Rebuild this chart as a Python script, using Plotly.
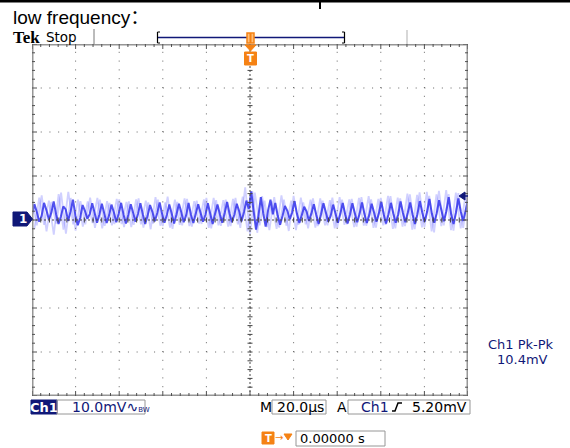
import numpy as np
import plotly.graph_objects as go

# ---------------- data (mV vs µs) ----------------
main_mv = [
    1.2, 3.6, 1.8, -0.4, 1.0, 3.9, 2.2, 0.1, 1.6, 4.2, 1.3, -0.9, 0.8, 3.1, 2.4, -0.2,
    1.9, 4.6, 1.1, -1.2, 0.5, 3.4, 2.0, 0.3, 1.4, 3.8, 1.6, -0.6,
    1.3, 3.7, 1.5, -0.7, 1.1, 3.5, 1.7, -0.5, 1.5, 3.9, 1.2, -0.8, 1.2, 3.6, 1.6, -0.4,
    1.4, 3.8, 1.3, -0.9, 1.0, 3.4, 1.8, -0.3, 1.6, 4.0, 1.4, -0.6, 1.2, 3.5, 1.5, -0.8,
    1.3, 3.7, 1.7, -0.5, 1.1, 3.9, 1.2, -0.7, 1.5, 3.6, 1.6, -0.4, 1.2, 3.8, 1.4, -0.9,
    1.4, 3.5, 1.3, -0.6,
    1.6, 4.1, 1.5, -0.5, 1.2, 3.7, 2.0, -0.3, 1.8, 4.4, 2.5, 6.5,
    2.0, -2.2, 1.0, 5.2, 1.5, -1.5, 2.2, 4.6,
    1.3, 3.9, 1.0, -1.1, 0.9, 3.2, 2.1, 0.2, 1.7, 4.3, 1.4, -0.7, 1.1, 3.0, 1.9, -0.2,
    1.5, 3.6, 1.2, -0.9, 1.3, 3.8, 1.7, -0.4, 1.0, 3.5, 1.5, -0.6, 1.4, 3.9, 1.3, -0.8,
    1.2, 3.8, 1.6, -0.5, 1.4, 4.0, 1.4, -0.7, 1.1, 3.7, 1.7, -0.4, 1.5, 4.1, 1.3, -0.8,
    1.3, 3.9, 1.5, -0.6, 1.2, 4.2, 1.6, -0.5, 1.6, 4.0, 1.2, -0.9, 1.3, 4.3, 1.7, -0.4,
    1.8, 4.8, 1.4, -0.6, 1.5, 4.5, 2.1, -0.3, 2.0, 5.2, 1.3, -0.9, 1.7, 4.9, 1.9, -0.2,
    2.1, 4.6,
]

faint_a_mv = [
    4.8, -1.2, 5.6, -2.6, 4.1, -0.8, 6.2, -3.1, 5.0, -2.4,
    4.3, -1.0, 5.1, -1.8, 4.6, -1.3, 3.9, -0.9, 4.7, -1.6,
    4.2, -1.1, 4.9, -1.7, 4.0, -0.8, 4.6, -1.4, 5.3, -2.0,
    4.1, -1.2, 4.8, -1.5, 4.4, -0.9, 5.0, -1.9, 4.5, -1.3,
    4.6, -1.4, 5.0, -1.8, 7.4, -3.2, 6.2, -1.2, 4.4, -2.3,
    5.2, -1.7, 4.6, -2.5, 5.5, -1.1, 4.0, -1.9, 4.9, -1.4,
    4.4, -1.2, 5.1, -1.8, 4.6, -1.0, 4.8, -1.5, 5.2, -1.3,
    4.7, -1.7, 5.0, -1.1, 5.4, -1.9, 4.9, -1.4, 5.8, -2.1,
    6.3, -1.6, 5.5, -2.8, 6.6, -1.2, 5.9, -2.4, 6.1, -1.8,
    5.7,
]

faint_b_mv = [
    -2.0, 5.1, -1.1, 4.4, -3.3, 5.9, -2.2, 6.4, -1.0, 4.6,
    -1.5, 4.2, -0.7, 5.0, -1.9, 4.3, -1.2, 4.8, -0.9, 4.1,
    -1.6, 4.7, -1.0, 4.4, -2.1, 5.2, -1.3, 4.0, -1.7, 4.6,
    -1.1, 4.9, -1.4, 4.3, -0.8, 4.7, -1.8, 5.0, -1.2, 4.5,
    -1.5, 4.8, -1.0, 5.3, -2.6, 6.5, -2.9, 5.4, -1.6, 4.2,
    -2.0, 5.6, -1.3, 4.4, -2.3, 5.1, -1.0, 4.6, -1.7, 4.9,
    -1.2, 4.5, -1.9, 5.2, -1.1, 4.7, -1.6, 5.0, -1.3, 5.4,
    -1.8, 4.8, -1.2, 5.5, -2.0, 5.1, -1.5, 6.0, -2.2, 5.7,
    -1.7, 6.4, -2.6, 5.8, -1.4, 6.8, -2.3, 6.2, -1.9, 5.9,
    -1.6,
]

title_text = "low frequency："
volts_div = "10.0mV"
time_div = "20.0µs"
trig_level = "5.20mV"
trig_pos = "0.00000 s"
meas_label = "Ch1 Pk-Pk"
meas_value = "10.4mV"

# ---------------- geometry ----------------
W, H = 570, 448
L, R, T, B = 32, 468, 44, 396
XMIN, XMAX = -100.0, 100.0
YMIN, YMAX = -40.0, 40.0
DX = (XMAX - XMIN) / (R - L)   # µs per px
DY = (YMAX - YMIN) / (B - T)   # mV per px


def px(x):
    return (x - L) / (R - L)


def py(y):
    return (B - y) / (B - T)


t_main = np.linspace(XMIN, XMAX, len(main_mv))
t_a = np.linspace(XMIN, XMAX, len(faint_a_mv))
t_b = t_a + 1.1

NAVY = "rgb(16,24,120)"
ORANGE = "rgb(245,130,20)"
FONT = "DejaVu Sans"

fig = go.Figure()
fig.add_trace(go.Scatter(x=t_b, y=faint_b_mv, mode="lines",
                         line=dict(color="rgba(100,100,255,0.30)", width=1.8),
                         hoverinfo="skip", showlegend=False))
fig.add_trace(go.Scatter(x=t_a, y=faint_a_mv, mode="lines",
                         line=dict(color="rgba(100,100,255,0.30)", width=1.8),
                         hoverinfo="skip", showlegend=False))
fig.add_trace(go.Scatter(x=t_main, y=main_mv, mode="lines",
                         line=dict(color="rgba(50,50,235,0.85)", width=2),
                         hoverinfo="skip", showlegend=False))

shapes = []
# dotted graticule
for k in range(1, 10):
    x = XMIN + 20 * k
    if k == 5:
        continue
    shapes.append(dict(type="line", xref="x", yref="y", x0=x, x1=x, y0=YMIN, y1=YMAX,
                       line=dict(color="rgb(100,100,100)", width=1, dash="1px,7.8px")))
for k in range(1, 8):
    y = YMIN + 10 * k
    if k == 4:
        continue
    shapes.append(dict(type="line", xref="x", yref="y", x0=XMIN, x1=XMAX, y0=y, y1=y,
                       line=dict(color="rgb(100,100,100)", width=1, dash="1px,7.72px")))
# center lines
shapes.append(dict(type="line", xref="x", yref="y", x0=0, x1=0, y0=YMIN, y1=YMAX,
                   line=dict(color="rgb(70,70,70)", width=1, dash="2px,2px")))
shapes.append(dict(type="line", xref="x", yref="y", x0=XMIN, x1=XMAX, y0=0, y1=0,
                   line=dict(color="rgb(70,70,70)", width=1, dash="2px,2px")))
for k in range(41):
    y = YMIN + 2 * k
    shapes.append(dict(type="line", xref="x", yref="y", x0=-2.5 * DX, x1=2.5 * DX, y0=y, y1=y,
                       line=dict(color="rgb(70,70,70)", width=1)))
for k in range(51):
    x = XMIN + 4 * k
    shapes.append(dict(type="line", xref="x", yref="y", x0=x, x1=x, y0=-2.5 * DY, y1=2.5 * DY,
                       line=dict(color="rgb(70,70,70)", width=1)))
# frame with ruler ticks
shapes.append(dict(type="rect", xref="x", yref="y", x0=XMIN, x1=XMAX, y0=YMIN, y1=YMAX,
                   line=dict(color="rgb(150,150,150)", width=3)))
for k in range(51):
    x = XMIN + 4 * k
    ln = (5 if k % 5 == 0 else 3) * DY
    shapes.append(dict(type="line", xref="x", yref="y", x0=x, x1=x, y0=YMAX, y1=YMAX - ln,
                       line=dict(color="rgb(80,80,80)", width=1)))
    shapes.append(dict(type="line", xref="x", yref="y", x0=x, x1=x, y0=YMIN, y1=YMIN + ln,
                       line=dict(color="rgb(80,80,80)", width=1)))
for k in range(41):
    y = YMIN + 2 * k
    ln = (5 if k % 5 == 0 else 3) * DX
    shapes.append(dict(type="line", xref="x", yref="y", x0=XMIN, x1=XMIN + ln, y0=y, y1=y,
                       line=dict(color="rgb(80,80,80)", width=1)))
    shapes.append(dict(type="line", xref="x", yref="y", x0=XMAX, x1=XMAX - ln, y0=y, y1=y,
                       line=dict(color="rgb(80,80,80)", width=1)))


def pline(x0, y0, x1, y1, color, width=1):
    shapes.append(dict(type="line", xref="paper", yref="paper",
                       x0=px(x0), y0=py(y0), x1=px(x1), y1=py(y1),
                       line=dict(color=color, width=width)))


def prect(x0, y0, x1, y1, fill=None, color="rgb(150,150,150)", width=1):
    shapes.append(dict(type="rect", xref="paper", yref="paper",
                       x0=px(x0), y0=py(y0), x1=px(x1), y1=py(y1),
                       fillcolor=fill if fill else "rgba(0,0,0,0)",
                       line=dict(color=color, width=width)))


def ppath(pts, fill, color=None):
    d = "M " + " L ".join(f"{px(a):.5f},{py(b):.5f}" for a, b in pts) + " Z"
    shapes.append(dict(type="path", xref="paper", yref="paper", path=d,
                       fillcolor=fill, line=dict(color=color or fill, width=1)))


# top page decoration
pline(0, 1, W, 1, "black", 3)
pline(320, 0, 320, 9, "black", 2)
# separators
pline(94, 29, 94, 44, "rgb(120,120,120)", 1)
pline(407, 30, 407, 44, "rgb(215,215,215)", 2)
# record bracket
pline(158, 37.5, 344, 37.5, NAVY, 1.5)
pline(157.5, 32, 157.5, 43, "black", 1.2)
pline(157.5, 32, 160, 32, "black", 1)
pline(157.5, 43, 160, 43, "black", 1)
pline(344.5, 32, 344.5, 43, "black", 1.2)
pline(342, 32, 344.5, 32, "black", 1)
pline(342, 43, 344.5, 43, "black", 1)
# trigger markers (orange)
prect(247, 33, 254, 43, fill="rgb(255,190,120)", color=ORANGE, width=1.5)
pline(250.5, 33, 250.5, 43, ORANGE, 2)
ppath([(245, 45), (256, 45), (250.5, 51)], ORANGE)
prect(244.5, 52, 256.5, 65, fill=ORANGE, color=ORANGE)
# channel 1 ground marker
ppath([(13, 212), (27, 212), (32.5, 219), (27, 226), (13, 226)], NAVY)
# trigger level arrow
ppath([(459, 196), (465, 192), (465, 200)], NAVY)
pline(464, 196, 468, 196, NAVY, 1.5)
# status bar boxes
prect(31, 400, 57, 414, fill=NAVY, color=NAVY)
prect(57, 400, 145, 414)
prect(272, 400, 326, 414)
prect(348, 400, 470, 414)
prect(296, 431, 385, 446)
prect(262, 432, 274, 444, fill=ORANGE, color=ORANGE)
ppath([(284, 434), (292, 434), (288, 440)], ORANGE)
# rising edge trigger slope icon
shapes.append(dict(type="path", xref="paper", yref="paper",
                   path=f"M {px(392):.5f},{py(411):.5f} L {px(395):.5f},{py(411):.5f} "
                        f"L {px(398):.5f},{py(403):.5f} L {px(402):.5f},{py(403):.5f}",
                   line=dict(color="black", width=1.5)))

ann = []


def text(x, y, s, size=13, color="black", family=FONT, anchor="left"):
    ann.append(dict(x=px(x), y=py(y), xref="paper", yref="paper", text=s, showarrow=False,
                    xanchor=anchor, yanchor="middle", font=dict(size=size, color=color, family=family)))


text(11, 17, title_text, 19, "black", "Liberation Sans, Noto Sans CJK SC")
text(11, 37, "<b>Tek</b>", 17, "black", "Liberation Serif")
text(44, 37, "Stop", 13.5)
text(250.5, 58.5, "<b>T</b>", 10, "white", anchor="center")
text(22.5, 219, "<b>1</b>", 12, "white", anchor="center")
text(44, 407, "<b>Ch1</b>", 13, "white", anchor="center")
text(70, 407, volts_div + "∿<span style='font-size:7px'>BW</span>", 14, NAVY)
text(266, 407, "M", 14, "black", anchor="center")
text(275, 407, time_div, 14)
text(342, 407, "A", 14, "black", anchor="center")
text(359, 407, "Ch1", 14, NAVY)
text(469, 407, trig_level, 14, "black", anchor="right")
text(268, 438, "<b>T</b>", 10, "white", anchor="center")
text(278.5, 437.5, "→", 10, ORANGE, anchor="center")
text(298, 438.5, trig_pos, 13)
text(521, 344, meas_label, 13, NAVY, anchor="center")
text(522, 359.5, meas_value, 13, NAVY, anchor="center")

fig.update_layout(
    width=W, height=H, autosize=False,
    margin=dict(l=L, r=W - R, t=T, b=H - B, pad=0),
    paper_bgcolor="white", plot_bgcolor="white",
    xaxis=dict(range=[XMIN, XMAX], visible=False, fixedrange=True),
    yaxis=dict(range=[YMIN, YMAX], visible=False, fixedrange=True),
    shapes=shapes, annotations=ann, showlegend=False,
)
fig.write_html("out.html", config={"displayModeBar": False},
               post_script="document.body.style.margin='0px';")
